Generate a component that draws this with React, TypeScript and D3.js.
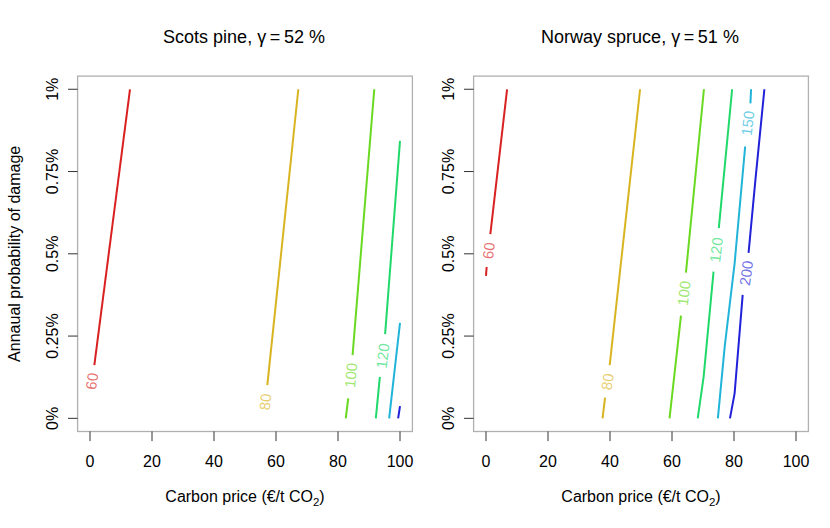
import React from "react";
import * as d3 from "d3";

type Pt = [number, number];

const levels = [60, 80, 100, 120, 150, 200];
const levelColors = ["#d92121", "#d9b421", "#6ad921", "#21d96a", "#21b4d9", "#2121d9"];
const speciesNames = ["Scots pine", "Norway spruce"];
const gammaValues = [52, 51];
const priceTicks = [0, 20, 40, 60, 80, 100];
const probTicks = [0, 0.25, 0.5, 0.75, 1];
const probTickLabels = ["0%", "0.25%", "0.5%", "0.75%", "1%"];

// Contour segments per level: [carbon price €/t CO2, annual probability %]
const pineSegments: Pt[][][] = [
  [[[1.4, 0.162], [12.9, 1.0]]],
  [[[57.2, 0.101], [67.2, 1.0]]],
  [[[84.7, 0.192], [91.7, 1.0]], [[82.5, 0], [83.3, 0.061]]],
  [[[95.2, 0.256], [100, 0.843]], [[92.2, 0], [93.5, 0.126]]],
  [[[96.5, 0], [100, 0.29]]],
  [[[99.4, 0], [100, 0.037]]],
];
const pineLabels: (Pt | null)[] = [[0.55, 0.113], [56.5, 0.05], [84.1, 0.131], [94.4, 0.19], null, null];

const spruceSegments: Pt[][][] = [
  [[[1.4, 0.56], [6.8, 1.0]], [[0, 0.433], [0.2, 0.46]]],
  [[[39.9, 0.162], [49.7, 1.0]], [[37.6, 0], [38.4, 0.063]]],
  [[[64.5, 0.443], [70.3, 1.0]], [[59.2, 0], [62.9, 0.312]]],
  [[[75.1, 0.578], [79.4, 1.0]], [[68.3, 0], [70.2, 0.126], [73.4, 0.446]]],
  [[[85.3, 0.957], [85.5, 1.0]], [[74.8, 0], [77, 0.218], [80.2, 0.471], [83.6, 0.826]]],
  [[[84.7, 0.503], [86.9, 0.724], [89.8, 1.0]], [[78.7, 0], [80.2, 0.076], [82.8, 0.375]]],
];
const spruceLabels: (Pt | null)[] = [[0.8, 0.51], [39.1, 0.111], [63.8, 0.38], [74.2, 0.512], [84.4, 0.897], [83.9, 0.441]];

const panels = [
  { segments: pineSegments, labels: pineLabels },
  { segments: spruceSegments, labels: spruceLabels },
];

const W = 830;
const H = 528;
const panelLeft = [77.6, 473.6];
const panelWidth = 334.8;
const plotTop = 76.1;
const plotBottom = 431.5;
const font = "'Liberation Sans', Arial, Helvetica, sans-serif";

function Panel({ idx }: { idx: number }) {
  const p = panels[idx];
  const x0 = panelLeft[idx];
  const x = d3.scaleLinear().domain([-4, 104]).range([x0, x0 + panelWidth]);
  const y = d3.scaleLinear().domain([-0.04, 1.04]).range([plotBottom, plotTop]);
  const line = d3
    .line<Pt>()
    .x((d) => x(d[0]))
    .y((d) => y(d[1]));
  const cx = x0 + panelWidth / 2;
  const cy = (plotTop + plotBottom) / 2;

  return (
    <g>
      {/* title */}
      <text x={cx - 1} y={43.3} textAnchor="middle" fontSize={18} fontFamily={font} fill="#000">
        {speciesNames[idx]}, γ{"\u2009=\u2009"}{gammaValues[idx]} %
      </text>
      {/* contours */}
      {p.segments.map((segs, li) =>
        segs.map((seg, si) => (
          <path
            key={`c${li}-${si}`}
            d={line(seg) || ""}
            fill="none"
            stroke={levelColors[li]}
            strokeWidth={2}
            strokeLinecap="butt"
          />
        ))
      )}
      {p.labels.map((lab, li) => {
        if (!lab) return null;
        const pts = p.segments[li].flat().slice().sort((a, b) => a[1] - b[1]);
        let a = pts[0];
        let b = pts[1];
        for (let i = 0; i < pts.length - 1; i++) {
          if (pts[i][1] <= lab[1] && pts[i + 1][1] >= lab[1]) {
            a = pts[i];
            b = pts[i + 1];
          }
        }
        const ang = (Math.atan2(y(b[1]) - y(a[1]), x(b[0]) - x(a[0])) * 180) / Math.PI;
        const lx = x(lab[0]);
        const ly = y(lab[1]);
        return (
          <text
            key={`l${li}`}
            transform={`translate(${lx},${ly}) rotate(${ang})`}
            textAnchor="middle"
            dominantBaseline="central"
            fontSize={15}
            fontFamily={font}
            fontWeight={300}
            fill={levelColors[li]}
            fillOpacity={0.65}
          >
            {levels[li]}
          </text>
        );
      })}
      {/* box */}
      <rect
        x={x0}
        y={plotTop}
        width={panelWidth}
        height={plotBottom - plotTop}
        fill="none"
        stroke="#b0b0b0"
        strokeWidth={1.3}
      />
      {/* x axis */}
      {priceTicks.map((t) => (
        <g key={`xt${t}`}>
          <line x1={x(t)} x2={x(t)} y1={plotBottom} y2={plotBottom + 9.6} stroke="#333" strokeWidth={1} />
          <text x={x(t)} y={467.4} textAnchor="middle" fontSize={16} fontFamily={font} fill="#000">
            {t}
          </text>
        </g>
      ))}
      {/* y axis */}
      {probTicks.map((t, i) => (
        <g key={`yt${t}`}>
          <line x1={x0 - 9.6} x2={x0} y1={y(t)} y2={y(t)} stroke="#333" strokeWidth={1} />
          <text
            transform={`translate(${x0 - 19.2},${y(t)}) rotate(-90)`}
            textAnchor="middle"
            fontSize={16}
            fontFamily={font}
            fill="#000"
          >
            {probTickLabels[i]}
          </text>
        </g>
      ))}
      <text x={cx} y={502.3} textAnchor="middle" fontSize={16} fontFamily={font} fill="#000">
        Carbon price (€/t CO
        <tspan fontSize={11.5} dy={4}>2</tspan>
        <tspan dy={-4}>)</tspan>
      </text>
      {idx === 0 && (
        <text
          transform={`translate(${x0 - 57.6},${cy}) rotate(-90)`}
          textAnchor="middle"
          fontSize={16}
          fontFamily={font}
          fill="#000"
        >
          Annaual probability of damage
        </text>
      )}
    </g>
  );
}

export default function App() {
  return (
    <svg
      width={W}
      height={H}
      viewBox={`0 0 ${W} ${H}`}
      style={{ position: "absolute", left: 0, top: 0, background: "#fff" }}
    >
      <rect x={0} y={0} width={W} height={H} fill="#fff" />
      <Panel idx={0} />
      <Panel idx={1} />
    </svg>
  );
}
